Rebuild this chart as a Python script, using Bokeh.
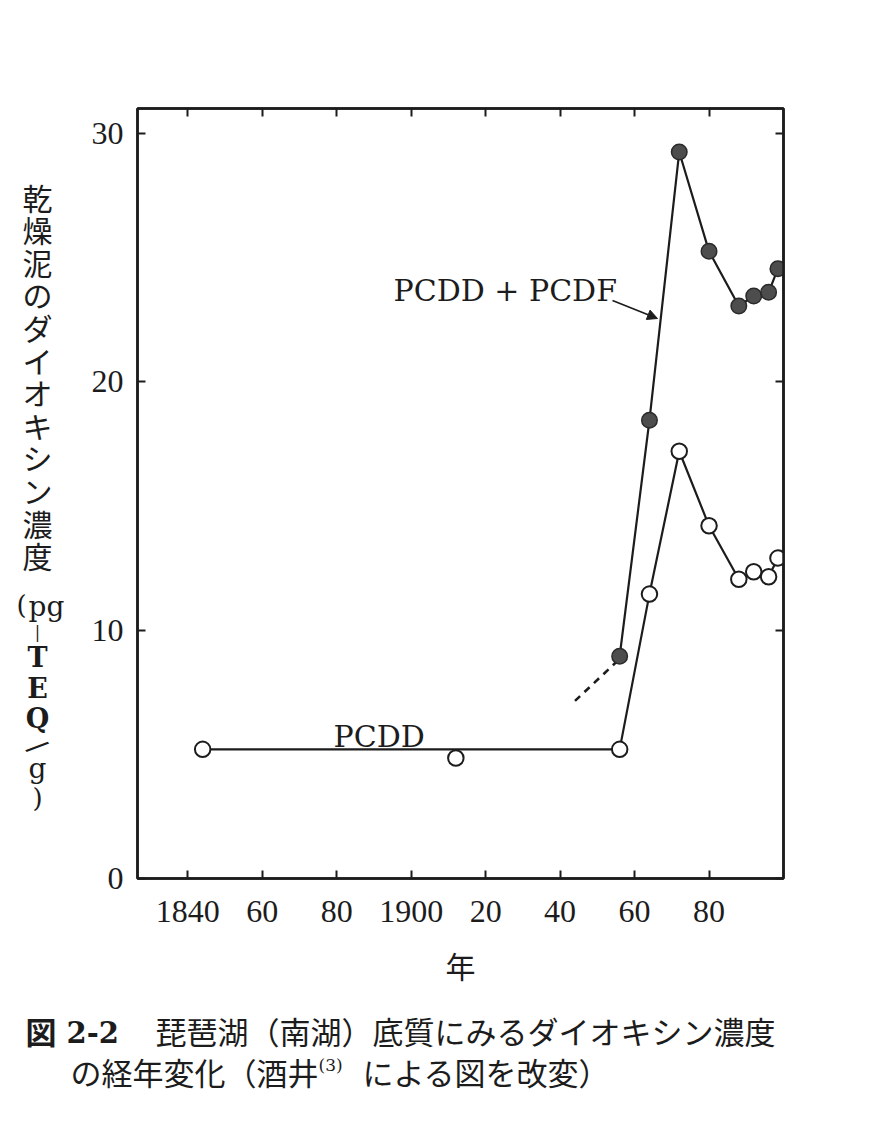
import math
from bokeh.plotting import figure
from bokeh.layouts import column, row
from bokeh.models import Arrow, NormalHead, LinearAxis, FixedTicker, Range1d, Label
from bokeh.core.properties import value
from bokeh.embed import file_html
from bokeh.resources import INLINE

# ---------------- data ----------------
pcdd_years = [1844, 1912, 1956, 1964, 1972, 1980, 1988, 1992, 1996, 1998.5]
pcdd_values = [5.2, 4.85, 5.2, 11.45, 17.2, 14.2, 12.05, 12.35, 12.15, 12.9]
pcdd_on_line = [True, False, True, True, True, True, True, True, True, True]

total_years = [1956, 1964, 1972, 1980, 1988, 1992, 1996, 1998.5]
total_values = [8.95, 18.45, 29.25, 25.25, 23.05, 23.45, 23.6, 24.55]

extrap_years = [1944, 1955]
extrap_values = [7.15, 8.7]

x_ticks = [1840, 1860, 1880, 1900, 1920, 1940, 1960, 1980]
x_tick_labels = ["1840", "60", "80", "1900", "20", "40", "60", "80"]
y_ticks = [0, 10, 20, 30]

x_title = "年"
ylabel_text = "乾燥泥のダイオキシン濃度"
caption_fig = "図"
caption_num = "2-2"
caption_line1 = "琵琶湖（南湖）底質にみるダイオキシン濃度"
caption_line2a = "の経年変化（酒井"
caption_ref = "(3)"
caption_line2b = "による図を改変）"

# ---------------- geometry ----------------
X0, X1 = 1826.5, 2000.0
Y0, Y1 = 0.0, 31.0
PAGE_W = 896
LEFT_W = 75            # width of the strip holding the vertical y title
FL, FT, FW, FH = 137, 108, 646, 770   # frame position on page
MAIN_H = 995
CAP_H = 125

INK = "#1c1c1c"
SERIF = "DejaVu Serif"
NUM = "Liberation Serif"
JP = "Noto Sans CJK JP"


def txt(f, base_y, s, px, py, font, size, align="center", baseline="middle",
        bold=False, angle=0.0):
    # base_y: page y of the bottom of the strip's frame
    f.text(x=[px], y=[base_y - py], text=[s], text_font=value(font),
           text_font_size=value(f"{size}px"), text_align=align,
           text_baseline=baseline, angle=angle,
           text_font_style="bold" if bold else "normal", text_color=INK)


# ---------------- main chart ----------------
p = figure(frame_width=FW, frame_height=FH,
           x_range=Range1d(X0, X1), y_range=Range1d(Y0, Y1),
           min_border_left=FL - LEFT_W, min_border_top=FT,
           min_border_right=PAGE_W - FL - FW,
           min_border_bottom=MAIN_H - FT - FH,
           output_backend="svg", toolbar_location=None,
           x_axis_location=None, y_axis_location=None)
p.xgrid.visible = False
p.ygrid.visible = False
p.outline_line_color = INK
p.outline_line_width = 2.5


def style_axis(ax):
    ax.major_tick_in = 8
    ax.major_tick_out = 0
    ax.minor_tick_in = 0
    ax.minor_tick_out = 0
    ax.major_tick_line_width = 2
    ax.major_tick_line_color = INK
    ax.axis_line_width = 2.5
    ax.axis_line_color = INK
    ax.major_label_text_font = NUM
    ax.major_label_text_font_size = "32px"
    ax.major_label_text_color = INK


xb = LinearAxis(ticker=FixedTicker(ticks=x_ticks),
                major_label_overrides={t: l for t, l in zip(x_ticks, x_tick_labels)})
style_axis(xb)
xb.major_label_standoff = 22
xb.axis_label = x_title
xb.axis_label_text_font = JP
xb.axis_label_text_font_size = "30px"
xb.axis_label_text_font_style = "normal"
xb.axis_label_text_color = INK
xb.axis_label_standoff = 18
p.add_layout(xb, "below")

xt = LinearAxis(ticker=FixedTicker(ticks=x_ticks),
                major_label_overrides={t: "" for t in x_ticks})
style_axis(xt)
xt.major_label_standoff = 0
p.add_layout(xt, "above")

yl = LinearAxis(ticker=FixedTicker(ticks=y_ticks))
style_axis(yl)
yl.major_label_standoff = 14
p.add_layout(yl, "left")

yr = LinearAxis(ticker=FixedTicker(ticks=y_ticks),
                major_label_overrides={t: "" for t in y_ticks})
style_axis(yr)
yr.major_label_standoff = 0
p.add_layout(yr, "right")

line_x = [x for x, on in zip(pcdd_years, pcdd_on_line) if on]
line_y = [y for y, on in zip(pcdd_values, pcdd_on_line) if on]
p.line(line_x, line_y, line_width=2.2, line_color=INK)
p.line(total_years, total_values, line_width=2.2, line_color=INK)
p.line(extrap_years, extrap_values, line_width=2.6, line_color=INK, line_dash="7 6")

p.scatter(total_years, total_values, marker="circle", size=15.5,
          fill_color="#4d4d4d", line_color="#2a2a2a", line_width=1.5)
p.scatter(pcdd_years, pcdd_values, marker="circle", size=15.5,
          fill_color="white", line_color=INK, line_width=2)


def to_x(px):
    return X0 + (px - FL) / FW * (X1 - X0)


def to_y(py):
    return Y0 + (FT + FH - py) / FH * (Y1 - Y0)


p.add_layout(Label(x=to_x(393), y=to_y(290), text="PCDD + PCDF", text_font=SERIF,
                   text_font_size="30px", text_align="left",
                   text_baseline="alphabetic", text_color=INK))
p.add_layout(Label(x=to_x(333), y=to_y(736), text="PCDD", text_font=SERIF,
                   text_font_size="30px", text_align="left",
                   text_baseline="alphabetic", text_color=INK))
p.add_layout(Arrow(end=NormalHead(size=10, fill_color=INK, line_color=INK, line_width=1),
                   x_start=to_x(612), y_start=to_y(300),
                   x_end=to_x(657), y_end=to_y(318),
                   line_width=1.8, line_color=INK))

# ---------------- vertical y-axis title strip ----------------
# same vertical geometry as the main chart so that the row aligns frames exactly
yf = figure(frame_width=LEFT_W, frame_height=FH,
            x_range=Range1d(0, LEFT_W), y_range=Range1d(0, FH),
            min_border_left=0, min_border_right=0,
            min_border_top=FT, min_border_bottom=MAIN_H - FT - FH,
            output_backend="svg", toolbar_location=None,
            x_axis_location=None, y_axis_location=None,
            outline_line_color=None)
yf.xgrid.visible = False
yf.ygrid.visible = False
YB = FT + FH
for i, ch in enumerate(ylabel_text):
    txt(yf, YB, ch, 37, 196 + i * 32.6, JP, 30)
txt(yf, YB, "(", 21, 604, SERIF, 26)
txt(yf, YB, "pg", 46, 606, SERIF, 28)
txt(yf, YB, "|", 37, 632, SERIF, 16)
txt(yf, YB, "T", 37, 657, SERIF, 27, bold=True)
txt(yf, YB, "E", 37, 688, SERIF, 27, bold=True)
txt(yf, YB, "Q", 37, 718, SERIF, 27, bold=True)
txt(yf, YB, "/", 37, 746, SERIF, 28, angle=-0.9)
txt(yf, YB, "g", 37, 768, SERIF, 28)
txt(yf, YB, ")", 37, 797, SERIF, 26)

# ---------------- caption strip ----------------
cf = figure(width=PAGE_W, height=CAP_H, x_range=Range1d(0, PAGE_W),
            y_range=Range1d(0, CAP_H), min_border=0,
            output_backend="svg", toolbar_location=None,
            x_axis_location=None, y_axis_location=None,
            outline_line_color=None)
cf.xgrid.visible = False
cf.ygrid.visible = False
CB = MAIN_H + CAP_H  # page y of the bottom of the caption strip

txt(cf, CB, caption_fig, 25, 1030, JP, 31, align="left", bold=True)
txt(cf, CB, caption_num, 66, 1031, SERIF, 29, align="left", bold=True)
txt(cf, CB, caption_line1, 155, 1030, JP, 31, align="left")
txt(cf, CB, caption_line2a, 70, 1071, JP, 31, align="left")
txt(cf, CB, caption_ref, 318, 1064, SERIF, 17, align="left")
txt(cf, CB, caption_line2b, 362, 1071, JP, 31, align="left")

layout = column(row(yf, p, spacing=0), cf, spacing=0)
open("out.html", "w").write(file_html(layout, INLINE))
